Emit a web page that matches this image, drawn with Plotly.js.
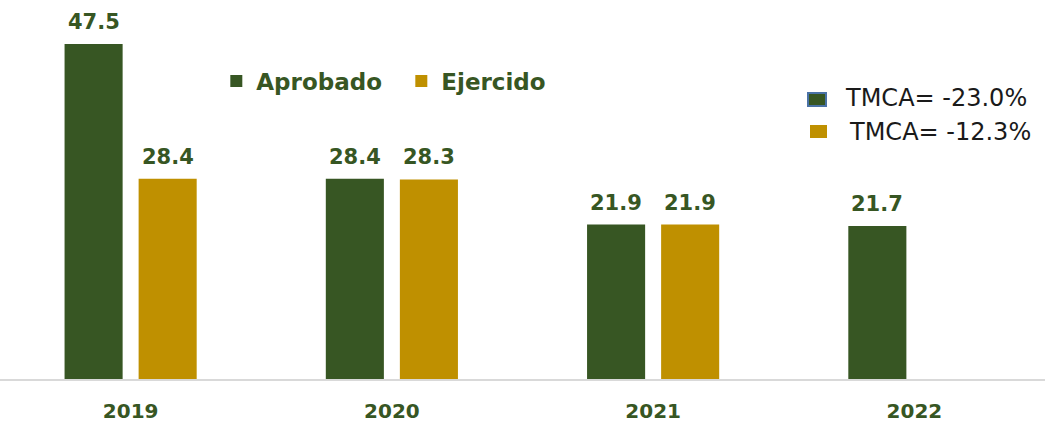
<!DOCTYPE html>
<html>
<head>
<meta charset="utf-8">
<script src="https://cdn.plot.ly/plotly-3.0.1.min.js"></script>
<style>
html,body{margin:0;padding:0;background:#fff;}
#chart{width:1045px;height:423px;}
</style>
</head>
<body>
<div id="chart"></div>
<script>
const years = ['2019', '2020', '2021', '2022'];
const aprobado = [47.5, 28.4, 21.9, 21.7];
const ejercido = [28.4, 28.3, 21.9, null];
const tmcaLabels = ['TMCA= -23.0%', 'TMCA= -12.3%'];

const GREEN = '#375623';
const GOLD = '#BF9000';
const BARGAP = 0.433;
const labelFont = {family: 'DejaVu Sans', size: 21, color: GREEN, weight: 'bold'};

const traces = [
  {type: 'bar', name: 'Aprobado', x: years, y: aprobado, marker: {color: GREEN}, hoverinfo: 'skip'},
  {type: 'bar', name: 'Ejercido', x: years, y: ejercido, marker: {color: GOLD}, hoverinfo: 'skip'}
];

// value labels above bars
const annotations = [];
const slot = (1 - BARGAP) / 2;
[aprobado, ejercido].forEach((arr, s) => {
  arr.forEach((v, i) => {
    if (v === null) return;
    annotations.push({
      x: i + (s === 0 ? -slot / 2 : slot / 2), y: v, xref: 'x', yref: 'y',
      text: '<b>' + v.toFixed(1) + '</b>', showarrow: false,
      yanchor: 'bottom', yshift: 8, font: labelFont
    });
  });
});

// TMCA notes
const tmcaY = [98, 132];
const shapes = [];
tmcaLabels.forEach((t, k) => {
  annotations.push({
    xref: 'paper', yref: 'paper', x: (k === 0 ? 843 : 847) / 1045, y: 1 - tmcaY[k] / 379,
    xanchor: 'left', yanchor: 'middle', text: t, showarrow: false,
    font: {family: 'DejaVu Sans', size: 24, color: '#1a1a1a'}
  });
});
shapes.push({type: 'rect', xref: 'paper', yref: 'paper', x0: 808 / 1045, x1: 826 / 1045,
  y0: 1 - 106 / 379, y1: 1 - 93 / 379, fillcolor: GREEN, line: {color: '#4a72a6', width: 2}});
shapes.push({type: 'rect', xref: 'paper', yref: 'paper', x0: 810 / 1045, x1: 827 / 1045,
  y0: 1 - 138 / 379, y1: 1 - 125 / 379, fillcolor: GOLD, line: {width: 0}});

const yTop = 379 / ((379 - 44) / 47.5);

const layout = {
  width: 1045, height: 423,
  margin: {l: 0, r: 0, t: 0, b: 44, pad: 0},
  paper_bgcolor: '#ffffff', plot_bgcolor: '#ffffff',
  barmode: 'group', bargap: BARGAP, bargroupgap: 0.216,
  showlegend: true,
  legend: {
    orientation: 'h', x: 0.207, y: 1 - 81 / 379, xanchor: 'left', yanchor: 'middle',
    font: {family: 'DejaVu Sans', size: 23, color: GREEN, weight: 'bold'},
    bgcolor: 'rgba(0,0,0,0)', traceorder: 'normal', itemwidth: 30, entrywidth: 140
  },
  xaxis: {
    type: 'category', showgrid: false, zeroline: false,
    showline: true, linecolor: '#d9d9d9', linewidth: 2,
    ticks: '', ticklabelstandoff: 13,
    tickfont: {family: 'DejaVu Sans', size: 20, color: GREEN, weight: 'bold'}
  },
  yaxis: {range: [0, yTop], visible: false, showgrid: false, zeroline: false},
  annotations: annotations,
  shapes: shapes
};

Plotly.newPlot('chart', traces, layout, {staticPlot: true, displayModeBar: false});
</script>
</body>
</html>
